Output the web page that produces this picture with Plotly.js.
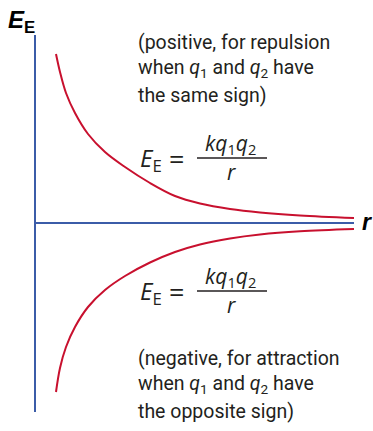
<!DOCTYPE html>
<html>
<head>
<meta charset="utf-8">
<script src="https://cdn.plot.ly/plotly-3.0.1.min.js"></script>
<style>
  html, body { margin: 0; padding: 0; background: #ffffff; }
  #chart { width: 373px; height: 431px; }
</style>
</head>
<body>
<div id="chart"></div>
<script>
// Separation r (arbitrary units) and electric potential energy E_E for each branch
const rRepulsive  = [2.0, 2.4, 3.0, 3.9, 5.2, 6.9, 8.9, 11.4, 13.9, 16.4, 19.4, 22.4, 26.4, 31.8];
const eRepulsive  = [16.9, 15.1, 13.0, 11.0, 8.9, 7.1, 5.6, 4.0, 2.7, 1.95, 1.4, 1.05, 0.75, 0.5];
const rAttractive = [2.0, 2.4, 3.0, 3.9, 5.2, 6.9, 8.9, 11.4, 13.9, 16.4, 19.4, 22.4, 26.4, 31.8];
const eAttractive = [-16.9, -14.5, -12.4, -10.4, -8.4, -6.7, -5.3, -3.95, -2.9, -2.15, -1.55, -1.15, -0.83, -0.6];

const axisLabelE = '<b><i>E</i><sub>E</sub></b>';
const axisLabelR = '<b><i>r</i></b>';
const noteRepulsion  = ['(positive, for repulsion', 'when <i>q</i><sub>1</sub> and <i>q</i><sub>2</sub> have', 'the same sign)'];
const noteAttraction = ['(negative, for attraction', 'when <i>q</i><sub>1</sub> and <i>q</i><sub>2</sub> have', 'the opposite sign)'];
const formulaLeft = '<i>E</i><sub>E</sub>';
const formulaEq   = '=';
const formulaNum  = '<i>kq</i><sub>1</sub><i>q</i><sub>2</sub>';
const formulaDen  = '<i>r</i>';

const BLUE = '#3b5ca8';
const RED  = '#c8102e';
const INK  = '#231f20';

const W = 373, H = 431;
const M = { l: 36, r: 19, t: 35, b: 19 };
const PW = W - M.l - M.r, PH = H - M.t - M.b;
// pixel position -> paper fraction of the plot area
const px = x => (x - M.l) / PW;
const py = y => (H - M.b - y) / PH;

const textFont = { family: 'Roboto, "Liberation Sans", sans-serif', size: 19.5, color: INK };
const mathFont = { family: '"Open Sans", "Noto Sans", sans-serif', size: 21, color: INK };
const boldFont = { family: '"Liberation Sans", Arial, sans-serif', size: 24, color: '#000' };

function note(text, x, y, font, xanchor) {
  return { text, x: px(x), y: py(y), xref: 'paper', yref: 'paper',
           xanchor: xanchor || 'left', yanchor: 'middle', showarrow: false,
           borderpad: 0, font };
}

const annotations = [
  note(axisLabelE, 7, 22, boldFont),
  note(axisLabelR, 361, 222, { ...boldFont, size: 23 }),
];
noteRepulsion.forEach((t, i) => annotations.push(note(t, 137, 42 + i * 26.5, textFont)));
noteAttraction.forEach((t, i) => annotations.push(note(t, 137, 358 + i * 26.5, textFont)));

// two copies of E_E = kq1q2 / r
[158, 291].forEach(mid => {
  annotations.push(note(formulaLeft, 139, mid + 1, { ...mathFont, size: 24 }));
  annotations.push(note(formulaEq, 176, mid, { ...mathFont, size: 27 }, 'center'));
  annotations.push(note(formulaNum, 230, mid - 14, mathFont, 'center'));
  annotations.push(note(formulaDen, 231, mid + 14, mathFont, 'center'));
});

const shapes = [158, 291].map(y => ({
  type: 'line', xref: 'paper', yref: 'paper',
  x0: px(197), x1: px(267), y0: py(y), y1: py(y),
  line: { color: INK, width: 1.3 }
}));

const curve = (x, y) => ({
  x, y, type: 'scatter', mode: 'lines', cliponaxis: false, hoverinfo: 'skip',
  line: { color: RED, width: 2, shape: 'spline', smoothing: 1 }
});

Plotly.newPlot('chart', [curve(rRepulsive, eRepulsive), curve(rAttractive, eAttractive)], {
  width: W, height: H, margin: M,
  paper_bgcolor: '#ffffff', plot_bgcolor: '#ffffff',
  showlegend: false,
  xaxis: { range: [0, 31.8], showgrid: false, zeroline: false, showticklabels: false,
           showline: false, ticks: '', fixedrange: true },
  yaxis: { range: [-18.9, 18.8], showgrid: false, showticklabels: false, ticks: '',
           zeroline: true, zerolinecolor: BLUE, zerolinewidth: 2,
           showline: true, linecolor: BLUE, linewidth: 2, fixedrange: true },
  annotations, shapes
}, { staticPlot: true });
</script>
</body>
</html>
